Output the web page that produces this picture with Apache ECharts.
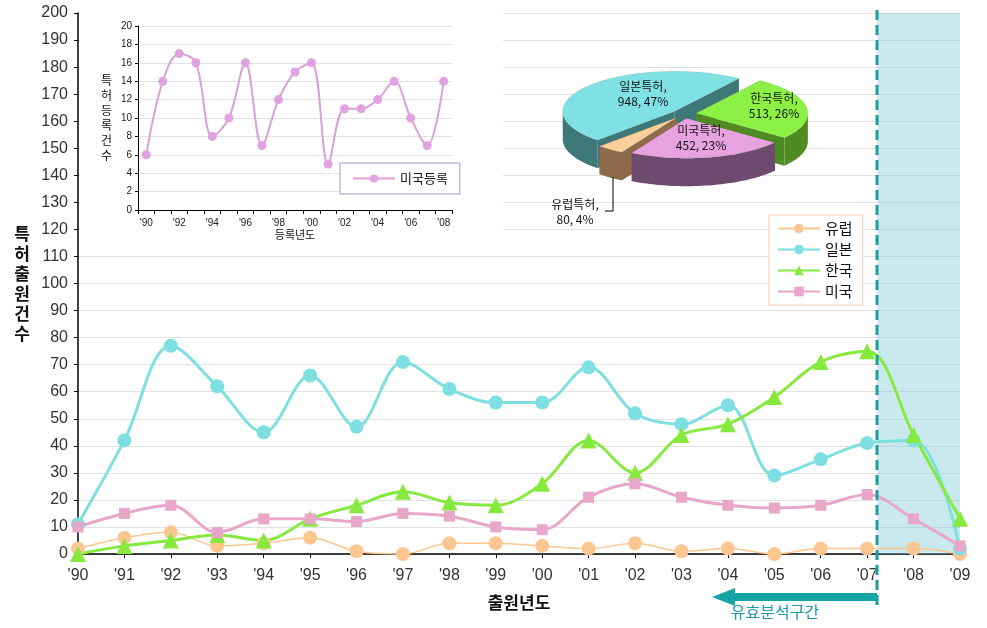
<!DOCTYPE html>
<html><head><meta charset="utf-8">
<script src="https://cdn.jsdelivr.net/npm/echarts@6/dist/echarts.min.js"></script>
<style>html,body{margin:0;padding:0;background:#fff}#c{width:987px;height:628px}</style>
</head><body><div id="c"></div>
<script>
// ---- data ----
const years = [1990,1991,1992,1993,1994,1995,1996,1997,1998,1999,2000,2001,2002,2003,2004,2005,2006,2007,2008,2009];
const europe = [2,6,8,3,4,6,1,0,4,4,3,2,4,1,2,0,2,2,2,0];
const japan  = [11,42,77,62,45,66,47,71,61,56,56,69,52,48,55,29,35,41,42,2];
const korea  = [0,3,5,7,5,13,18,23,19,18,26,42,30,44,48,58,71,75,44,13];
const usa    = [10,15,18,8,13,13,12,15,14,10,9,21,26,21,18,17,18,22,13,3];
const seriesNames = ['유럽','일본','한국','미국'];

const regYears = ["'90","'91","'92","'93","'94","'95","'96","'97","'98","'99","'00","'01","'02","'03","'04","'05","'06","'07","'08"];
const usReg = [6,14,17,16,8,10,16,7,12,15,16,5,11,11,12,14,10,7,14];

const pieNames = ['한국특허','미국특허','유럽특허','일본특허'];
const pieValues = [513,452,80,948];
const piePct = [26,23,4,47];

const validStart = 2007.22, validEnd = 2009;

// ---- styles ----
const FONT = '"Liberation Sans","Noto Sans CJK KR",sans-serif';
const KFONT = '"Noto Sans CJK KR","Liberation Sans",sans-serif';
const pieCfg = {cx:684, cy:114, rx:112, ry:40, depth:28, explode:12, start:35};
const pieTop = ['#8cf045','#e6a3df','#fbcf9c','#7fe1e3'];
const pieSide = ['#4f8a22','#6d4a6e','#8c6a4a','#3f7878'];
const pieLabelOff = [[90,-8],[17,24],[-109,98],[-41,-20]];
const leader = [[-71,63],[-71,97],[-79,97]];

function renderPie(params, api){
  const i = params.dataIndex;
  const total = pieValues.reduce((s,v)=>s+v,0);
  let cum = 0; for (let k=0;k<i;k++) cum += pieValues[k];
  const D2R = Math.PI/180;
  const a = (pieCfg.start + cum/total*360)*D2R;
  const b = (pieCfg.start + (cum+api.value(0))/total*360)*D2R;
  const m = (a+b)/2;
  const rx = pieCfg.rx, ry = pieCfg.ry, depth = pieCfg.depth;
  const cx = pieCfg.cx + pieCfg.explode*Math.sin(m);
  const cy = pieCfg.cy - pieCfg.explode*Math.cos(m)*ry/rx;
  const P = t => [cx + rx*Math.sin(t), cy - ry*Math.cos(t)];
  const Dn = p => [p[0], p[1]+depth];
  const arc = (t0,t1) => { const n=Math.max(2,Math.ceil((t1-t0)/0.03)); const r=[]; for(let k=0;k<=n;k++) r.push(P(t0+(t1-t0)*k/n)); return r; };
  const children = [];
  const zs = 2 - Math.cos(m);
  const s0 = Math.max(a, Math.PI/2), s1 = Math.min(b, 1.5*Math.PI);
  if (s1 > s0) {
    const pts = arc(s0,s1);
    children.push({type:'polygon', shape:{points: pts.concat(pts.slice().reverse().map(Dn))}, style:{fill:pieSide[i]}, z2: zs});
  }
  const c = [cx,cy];
  if (Math.cos(a - Math.PI/2) < 0) { const r=P(a); children.push({type:'polygon', shape:{points:[c,r,Dn(r),Dn(c)]}, style:{fill:pieSide[i]}, z2: zs-0.5}); }
  if (Math.cos(b + Math.PI/2) < 0) { const r=P(b); children.push({type:'polygon', shape:{points:[c,r,Dn(r),Dn(c)]}, style:{fill:pieSide[i]}, z2: zs-0.5}); }
  children.push({type:'polygon', shape:{points:[c].concat(arc(a,b))}, style:{fill:pieTop[i], stroke:'rgba(0,0,0,0.15)', lineWidth:0.5}, z2: 10});
  const off = pieLabelOff[i];
  children.push({type:'text', x: pieCfg.cx+off[0], y: pieCfg.cy+off[1], z2: 20,
    style:{text: api.value(1)+',\n'+api.value(0)+', '+piePct[i]+'%', textAlign:'center', textVerticalAlign:'middle', fontSize:12, lineHeight:15, fontFamily:KFONT, fill:'#111'}});
  if (i === 2) {
    children.push({type:'polyline', z2:20, shape:{points: leader.map(p=>[pieCfg.cx+p[0], pieCfg.cy+p[1]])}, style:{stroke:'#000', lineWidth:1, fill:null}});
  }
  return {type:'group', children};
}

const chart = echarts.init(document.getElementById('c'), null, {renderer:'canvas'});
const mk = (name, data, color, symbol, size, width) => ({
  name, type:'line', xAxisIndex:0, yAxisIndex:0, smooth:0.35,
  data: years.map((y,k)=>[y,data[k]]),
  symbol, symbolSize:size, showSymbol:true,
  lineStyle:{color, width}, itemStyle:{color}, z:2
});

chart.setOption({
  animation:false,
  backgroundColor:'#fff',
  textStyle:{fontFamily:FONT},
  grid:[
    {left:78, right:27, top:13, bottom:74},
    {left:138, top:26, width:314, height:184, z:3}
  ],
  xAxis:[
    {type:'value', gridIndex:0, min:1990, max:2009, interval:1,
     axisLine:{lineStyle:{color:'#000', width:1.5}},
     axisTick:{show:true, length:4, lineStyle:{color:'#000'}},
     axisLabel:{color:'#333', fontSize:16, margin:14, fontFamily:FONT, formatter: v => "'" + String(v).slice(2)},
     splitLine:{show:false},
     name:'출원년도', nameLocation:'middle', nameGap:40,
     nameTextStyle:{fontSize:17, fontWeight:'bold', color:'#111', fontFamily:KFONT}},
    {type:'category', gridIndex:1, data:regYears, boundaryGap:true, z:4,
     axisLine:{lineStyle:{color:'#000'}},
     axisTick:{show:true, interval:0, length:4, lineStyle:{color:'#000'}},
     axisLabel:{interval:1, fontSize:10, color:'#222', margin:8, fontFamily:FONT},
     name:'등록년도', nameLocation:'middle', nameGap:18,
     nameTextStyle:{fontSize:11, color:'#111', fontFamily:KFONT}}
  ],
  yAxis:[
    {type:'value', gridIndex:0, min:0, max:200, interval:10, z:0,
     axisLine:{show:true, lineStyle:{color:'#000', width:1.5}},
     axisTick:{show:true, length:4, lineStyle:{color:'#000'}},
     axisLabel:{color:'#333', fontSize:16, margin:10, fontFamily:FONT},
     splitLine:{show:true, lineStyle:{color:'#e2e2e2', width:1}},
     name:'특\n허\n출\n원\n건\n수', nameLocation:'middle', nameRotate:0, nameGap:48,
     nameTextStyle:{fontSize:17, fontWeight:'bold', color:'#111', lineHeight:20, fontFamily:KFONT}},
    {type:'value', gridIndex:1, min:0, max:20, interval:2, z:4,
     axisLine:{show:true, lineStyle:{color:'#000'}},
     axisTick:{show:true, length:3, lineStyle:{color:'#000'}},
     axisLabel:{fontSize:10, color:'#222', margin:6, fontFamily:FONT},
     splitLine:{show:true, lineStyle:{color:'#e2e2e2'}},
     name:'특\n허\n등\n록\n건\n수', nameLocation:'middle', nameRotate:0, nameGap:26,
     nameTextStyle:{fontSize:12, color:'#111', lineHeight:15, fontFamily:KFONT}}
  ],
  legend:[
    {data:seriesNames, orient:'vertical', left:769, top:215, width:98,
     padding:[6,10,6,8], itemGap:6, itemWidth:42, itemHeight:12,
     backgroundColor:'#fff', borderColor:'#f6cfae', borderWidth:1, z:6,
     textStyle:{fontSize:15, color:'#111', fontFamily:KFONT}},
    {data:['미국등록'], orient:'vertical', left:340, top:163, 
     padding:[9,12,9,12], itemWidth:42, itemHeight:10,
     backgroundColor:'#fff', borderColor:'#a899c4', borderWidth:1, z:6,
     textStyle:{fontSize:13, color:'#111', fontFamily:KFONT}}
  ],
  graphic:[
    {type:'rect', shape:{x:80, y:12, width:423, height:235}, style:{fill:'#fff'}, z:1, silent:true}
  ],
  series:[
    mk('유럽', europe, '#fcc690', 'circle', 14, 1.5),
    mk('일본', japan, '#7ddfe1', 'circle', 14, 3),
    mk('한국', korea, '#85ea3d', 'triangle', 16, 3),
    mk('미국', usa, '#e8a6c8', 'rect', 11, 3),
    {name:'valid', type:'line', xAxisIndex:0, yAxisIndex:0, data:[], z:5, silent:true,
     markArea:{silent:true, itemStyle:{color:'rgba(120,200,212,0.4)'}, data:[[{xAxis:validStart},{xAxis:validEnd}]]}},
    {name:'미국등록', type:'line', xAxisIndex:1, yAxisIndex:1, smooth:0.35, z:5,
     data: usReg, symbol:'circle', symbolSize:9,
     lineStyle:{color:'#d9a0d9', width:2}, itemStyle:{color:'#e0a2e0'}},
    {name:'pie', type:'custom', coordinateSystem:'none', z:4, silent:true,
     data: pieValues.map((v,k)=>[v, pieNames[k]]), renderItem: renderPie}
  ]
});

// decorations: dashed boundary line + arrow for 유효분석구간
const pTop = chart.convertToPixel({xAxisIndex:0, yAxisIndex:0}, [validStart, 200]);
const pBot = chart.convertToPixel({xAxisIndex:0, yAxisIndex:0}, [validStart, 0]);
const lx = Math.round(pTop[0]);
const ay = pBot[1] + 43;
chart.setOption({graphic:[
  {type:'rect', shape:{x:80, y:12, width:423, height:235}, style:{fill:'#fff'}, z:1, silent:true},
  {type:'line', shape:{x1:lx, y1:pTop[1]-3, x2:lx, y2:pBot[1]+51}, style:{stroke:'#1c9c9c', lineWidth:3, lineDash:[10,5]}, z:20},
  {type:'polygon', shape:{points:[[lx,ay-4],[lx-142,ay-4],[lx-142,ay-9],[lx-165,ay],[lx-142,ay+9],[lx-142,ay+4],[lx,ay+4]]}, style:{fill:'#14a6a6'}, z:20},
  {type:'text', x: lx-102, y: ay+15, style:{text:'유효분석구간', fill:'#1d9aab', fontSize:16, fontFamily:KFONT, textAlign:'center', textVerticalAlign:'middle'}, z:20}
]});
</script>
</body></html>
